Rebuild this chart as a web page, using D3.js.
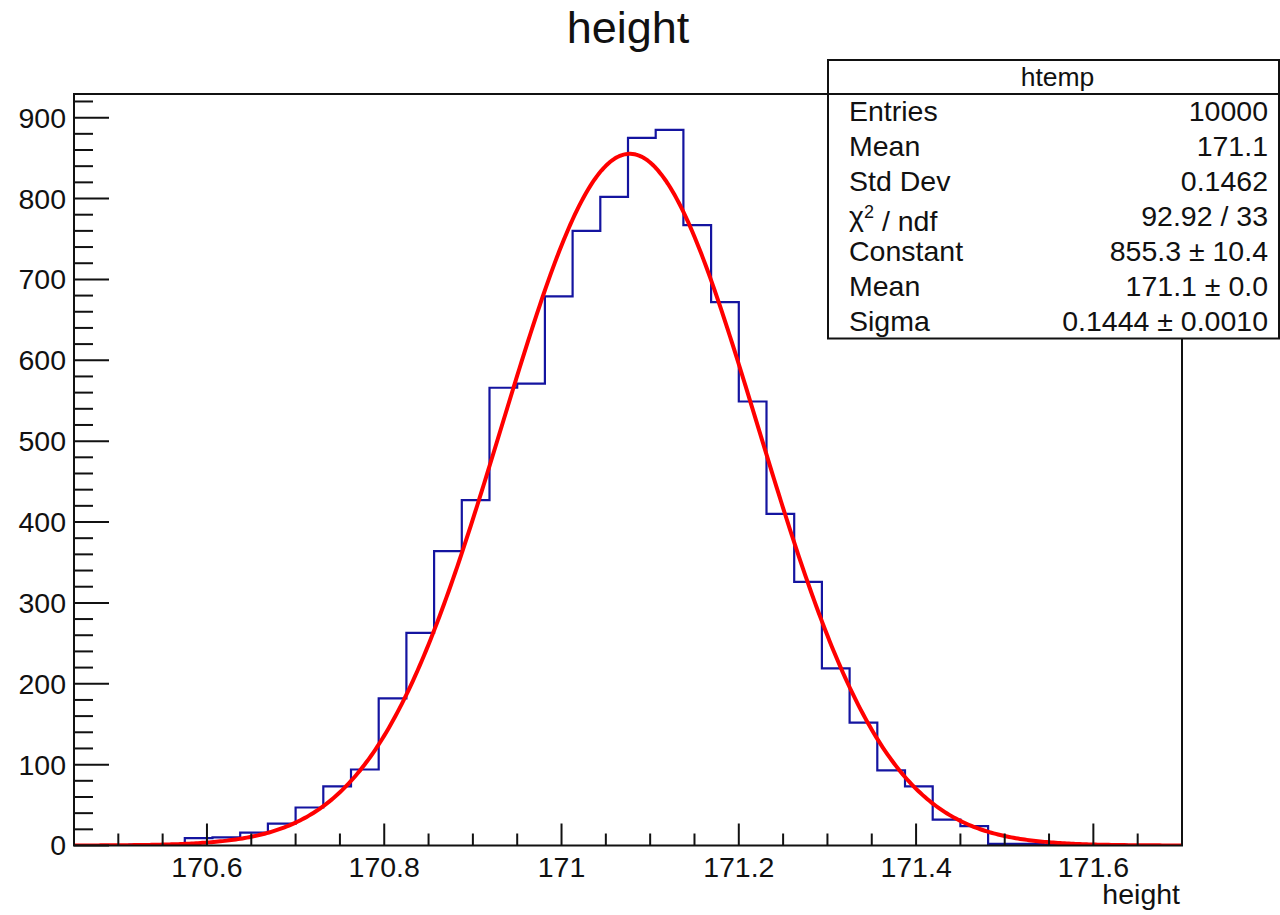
<!DOCTYPE html>
<html>
<head>
<meta charset="utf-8">
<script src="https://cdn.jsdelivr.net/npm/d3@7/dist/d3.min.js"></script>
<style>
  html, body { margin: 0; padding: 0; background: #fff; }
  svg { display: block; }
  text { font-family: "Liberation Sans", Arial, Helvetica, sans-serif; fill: #111; }
</style>
</head>
<body>
<svg id="chart" width="1280" height="915"></svg>
<script>
// Histogram of "height": 40 equal bins between 170.45 and 171.7
const binLow = 170.45;
const binHigh = 171.7;
const binCounts = [
  0, 0, 1, 1, 9, 10, 16, 27, 47, 73,
  94, 182, 263, 364, 427, 566, 571, 679, 760, 802,
  875, 885, 767, 672, 549, 410, 326, 219, 152, 93,
  73, 32, 24, 2, 2, 1, 1, 1, 0, 0
];

// Gaussian fit parameters
const fitConstant = 855.3, fitConstantErr = 10.4;
const fitMean = 171.077, fitMeanErr = 0.0015;
const fitSigma = 0.1444, fitSigmaErr = 0.0010;
const fitChi2 = 92.92, fitNdf = 33;

// Summary statistics
const statEntries = 10000;
const statMean = 171.1;
const statStdDev = 0.1462;

// Axis ticks
const xMajorTicks = [170.6, 170.8, 171.0, 171.2, 171.4, 171.6];
const xMinorTicks = [170.5, 170.55, 170.65, 170.7, 170.75, 170.85, 170.9, 170.95,
  171.05, 171.1, 171.15, 171.25, 171.3, 171.35, 171.45, 171.5, 171.55, 171.65];
const yMajorTicks = [0, 100, 200, 300, 400, 500, 600, 700, 800, 900];
const yMinorTicks = d3.range(20, 940, 20).filter(v => v % 100 !== 0);

const svg = d3.select("#chart");
const frame = { left: 74, right: 1182, top: 94, bottom: 845.5 };
const nBins = binCounts.length;
const binWidth = (binHigh - binLow) / nBins;
const yMax = 1.05 * d3.max(binCounts);

const x = d3.scaleLinear().domain([binLow, binHigh]).range([frame.left, frame.right]);
const y = d3.scaleLinear().domain([0, yMax]).range([frame.bottom, frame.top]);

const ink = "#111";
const labelSize = "28.5px";

// Title
svg.append("text")
  .attr("x", 628).attr("y", 43)
  .attr("text-anchor", "middle")
  .style("font-size", "45px")
  .text("height");

// Clip region for the plotted curves
svg.append("defs").append("clipPath").attr("id", "plotClip")
  .append("rect")
  .attr("x", frame.left).attr("y", frame.top)
  .attr("width", frame.right - frame.left).attr("height", frame.bottom - frame.top);

const plot = svg.append("g").attr("clip-path", "url(#plotClip)");

// Histogram outline as a step path
const stepPts = [[binLow, 0]];
binCounts.forEach((c, i) => {
  const lo = binLow + i * binWidth;
  stepPts.push([lo, c], [lo + binWidth, c]);
});
stepPts.push([binHigh, 0]);

plot.append("path")
  .attr("d", d3.line().x(d => x(d[0])).y(d => y(d[1]))(stepPts))
  .attr("fill", "none")
  .attr("stroke", "#1414a0")
  .attr("stroke-width", 2.2);

// Fitted Gaussian
const gauss = v => fitConstant * Math.exp(-0.5 * Math.pow((v - fitMean) / fitSigma, 2));
const fitPts = d3.range(0, 501).map(k => {
  const v = binLow + (binHigh - binLow) * k / 500;
  return [v, gauss(v)];
});
plot.append("path")
  .attr("d", d3.line().x(d => x(d[0])).y(d => y(d[1]))(fitPts))
  .attr("fill", "none")
  .attr("stroke", "#ff0000")
  .attr("stroke-width", 4)
  .attr("stroke-linejoin", "round");

// Frame
svg.append("rect")
  .attr("x", frame.left).attr("y", frame.top)
  .attr("width", frame.right - frame.left).attr("height", frame.bottom - frame.top)
  .attr("fill", "none").attr("stroke", ink).attr("stroke-width", 2);

// X axis ticks (drawn upward into the frame)
const xAxisG = svg.append("g");
xMajorTicks.forEach(v => {
  xAxisG.append("line")
    .attr("x1", x(v)).attr("x2", x(v))
    .attr("y1", frame.bottom).attr("y2", frame.bottom - 22)
    .attr("stroke", ink).attr("stroke-width", 2);
  xAxisG.append("text")
    .attr("x", x(v)).attr("y", frame.bottom + 31)
    .attr("text-anchor", "middle")
    .style("font-size", labelSize)
    .text(String(+v.toFixed(1)));
});
xMinorTicks.forEach(v => {
  xAxisG.append("line")
    .attr("x1", x(v)).attr("x2", x(v))
    .attr("y1", frame.bottom).attr("y2", frame.bottom - 12)
    .attr("stroke", ink).attr("stroke-width", 2);
});
svg.append("text")
  .attr("x", frame.right - 2).attr("y", 904)
  .attr("text-anchor", "end")
  .style("font-size", labelSize)
  .text("height");

// Y axis ticks (drawn rightward into the frame)
const yAxisG = svg.append("g");
yMajorTicks.forEach(v => {
  yAxisG.append("line")
    .attr("x1", frame.left).attr("x2", frame.left + 35)
    .attr("y1", y(v)).attr("y2", y(v))
    .attr("stroke", ink).attr("stroke-width", 2);
  yAxisG.append("text")
    .attr("x", frame.left - 8).attr("y", y(v))
    .attr("dy", "0.35em")
    .attr("text-anchor", "end")
    .style("font-size", labelSize)
    .text(v);
});
yMinorTicks.forEach(v => {
  yAxisG.append("line")
    .attr("x1", frame.left).attr("x2", frame.left + 19)
    .attr("y1", y(v)).attr("y2", y(v))
    .attr("stroke", ink).attr("stroke-width", 2);
});

// Statistics box
const box = { left: 828, right: 1279, top: 60, bottom: 338.5 };
const titleBottom = frame.top;
const boxG = svg.append("g");
boxG.append("rect")
  .attr("x", box.left).attr("y", box.top)
  .attr("width", box.right - box.left).attr("height", box.bottom - box.top)
  .attr("fill", "#fff").attr("stroke", ink).attr("stroke-width", 2);
boxG.append("line")
  .attr("x1", box.left).attr("x2", box.right)
  .attr("y1", titleBottom).attr("y2", titleBottom)
  .attr("stroke", ink).attr("stroke-width", 2);
boxG.append("text")
  .attr("x", (box.left + box.right) / 2 + 4).attr("y", (box.top + titleBottom) / 2)
  .attr("dy", "0.35em")
  .attr("text-anchor", "middle")
  .style("font-size", "26.5px")
  .text("htemp");

const pm = " \u00B1 ";
const statRows = [
  { label: "Entries", value: String(statEntries) },
  { label: "Mean", value: statMean.toFixed(1) },
  { label: "Std Dev", value: statStdDev.toFixed(4) },
  { label: "chi", value: fitChi2.toFixed(2) + " / " + fitNdf },
  { label: "Constant", value: fitConstant.toFixed(1) + pm + fitConstantErr.toFixed(1) },
  { label: "Mean", value: fitMean.toFixed(1) + pm + fitMeanErr.toFixed(1) },
  { label: "Sigma", value: fitSigma.toFixed(4) + pm + fitSigmaErr.toFixed(4) }
];
const rowH = (box.bottom - titleBottom) / statRows.length;
statRows.forEach((r, i) => {
  const cy = titleBottom + rowH * (i + 0.5);
  const lt = boxG.append("text")
    .attr("x", box.left + 21).attr("y", cy)
    .attr("dy", "0.35em")
    .style("font-size", "28.5px");
  if (r.label === "chi") {
    lt.append("tspan").text("\u03C7");
    lt.append("tspan").attr("dy", "-0.45em").style("font-size", "18px").text("2");
    lt.append("tspan").attr("dy", "0.45em").text(" / ndf");
  } else {
    lt.text(r.label);
  }
  boxG.append("text")
    .attr("x", box.right - 11).attr("y", cy)
    .attr("dy", "0.35em")
    .attr("text-anchor", "end")
    .style("font-size", "28.5px")
    .text(r.value);
});
</script>
</body>
</html>
